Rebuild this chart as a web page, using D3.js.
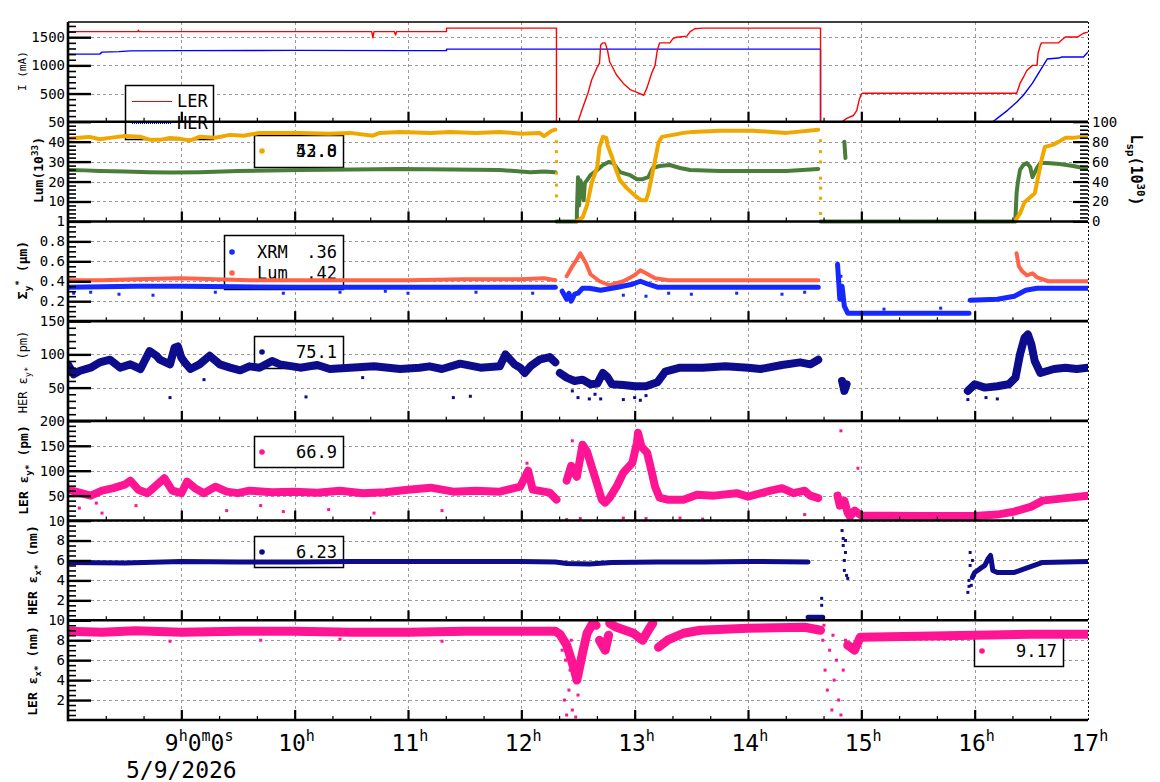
<!DOCTYPE html>
<html><head><meta charset="utf-8">
<script src="https://cdn.jsdelivr.net/npm/d3@7"></script>
<style>
body{margin:0;background:#fff}
svg{display:block}
text{font-family:"DejaVu Sans Mono",monospace;fill:#000}
</style>
</head><body>
<svg id="c" width="1160" height="782"></svg>
<script>
// ---------------- data ----------------
const xTickHours = [9,10,11,12,13,14,15,16,17];
const xTickLabels = ["9h0m0s","10h","11h","12h","13h","14h","15h","16h","17h"];
const dateLabel = "5/9/2026";

const panelDomains = [[0,1770],[0,50],[0,1],[0,150],[0,200],[0,10],[0,10]];
const panelMajor = [[500,1000,1500],[10,20,30,40,50],[0.2,0.4,0.6,0.8,1],[50,100,150],[50,100,150,200],[2,4,6,8,10],[2,4,6,8,10]];
const panelMinorStep = [100,2,0.05,10,10,0.5,0.5];
const rightDomain = [0,100];
const rightMajor = [0,20,40,60,80,100];
const rightMinorStep = 4;

// panel 1: beam currents (mA)
const lerCurrent = [[8.00,1600],[8.62,1600],[8.62,1625],[8.63,1600],[10.68,1600],[10.69,1490],[10.70,1600],[10.88,1600],[10.89,1540],[10.90,1600],[11.34,1600],[11.34,1662],[12.31,1662],[12.31,0],[12.50,0],[12.54,238],[12.59,520],[12.62,740],[12.67,970],[12.69,1040],[12.70,1360],[12.72,1400],[12.74,1400],[12.76,1270],[12.78,1060],[12.84,830],[12.90,680],[12.96,570],[13.02,520],[13.08,470],[13.11,610],[13.15,860],[13.18,1000],[13.20,1270],[13.22,1400],[13.31,1400],[13.34,1480],[13.37,1500],[13.46,1520],[13.49,1600],[13.53,1650],[13.60,1662],[14.64,1662],[14.64,0],[14.83,0],[14.87,60],[14.93,110],[14.96,200],[14.98,380],[15.00,490],[15.01,505],[16.37,505],[16.38,560],[16.40,680],[16.43,790],[16.46,910],[16.51,1000],[16.55,1000],[16.56,1220],[16.58,1360],[16.59,1400],[16.74,1400],[16.75,1420],[16.80,1505],[16.91,1505],[16.96,1570],[17.00,1590]];
const herCurrent = [[8.00,1200],[8.28,1200],[8.30,1235],[8.45,1245],[8.55,1258],[9.0,1262],[10.0,1266],[11.0,1262],[11.34,1265],[11.34,1288],[14.64,1288],[14.64,0],[16.16,0],[16.21,77],[16.29,202],[16.37,345],[16.43,470],[16.51,684],[16.58,916],[16.64,1113],[16.74,1130],[16.77,1148],[16.96,1148],[17.00,1240]];

// panel 2: luminosity
const lumA = [[8.00,41.4],[8.10,42.0],[8.19,42.4],[8.28,41.2],[8.37,41.9],[8.5,42.8],[8.64,42.4],[8.72,41.0],[8.81,40.9],[8.9,41.8],[8.99,41.4],[9.08,40.6],[9.16,42.4],[9.3,42.0],[9.43,43.4],[9.55,43.0],[9.69,44.4],[10.05,44.4],[10.3,44.0],[10.49,44.4],[10.69,43.0],[10.75,44.4],[10.93,44.9],[11.2,44.4],[11.37,44.9],[11.6,44.4],[11.81,44.9],[12.0,44.0],[12.16,44.4],[12.2,42.8],[12.27,45.5],[12.30,46.0],null,[12.49,0],[12.54,2.0],[12.58,8.1],[12.62,19.2],[12.67,27.3],[12.69,37.4],[12.72,42.4],[12.75,41.9],[12.76,38.4],[12.80,32.3],[12.83,26.8],[12.87,20.7],[12.93,16.7],[13.00,13.1],[13.06,10.6],[13.10,10.6],[13.12,14.1],[13.15,22.2],[13.18,30.8],[13.21,39.4],[13.24,42.4],[13.34,43.4],[13.43,44.4],[13.51,44.9],[13.75,45.5],[14.04,45.5],[14.34,44.4],[14.62,46.0],null,[16.36,0.5],[16.40,4.0],[16.44,9.6],[16.49,12.1],[16.53,14.1],[16.56,22.2],[16.59,30.8],[16.62,37.4],[16.69,38.4],[16.74,39.9],[16.80,41.9],[16.87,41.9],[16.93,42.4],[17.00,43.4]];
const lumADrops = [[12.31,40],[12.31,35],[12.31,30],[12.31,24.2],[12.31,18.2],[12.31,12.8],[14.64,40.5],[14.64,35],[14.64,29.8],[14.64,21.7],[14.64,16.7],[14.64,11.6],[14.64,4.0]];
const lumB = [[8.00,25.8],[8.15,25.6],[8.28,25.3],[8.5,25.0],[8.72,24.7],[8.9,24.5],[9.16,24.7],[9.5,25.3],[10.05,25.8],[10.5,26.0],[10.93,26.3],[11.4,26.0],[11.81,25.8],[12.08,24.7],[12.2,25.0],[12.30,24.7],null,[12.31,0],[12.49,0],[12.49,4.0],[12.50,22.2],[12.51,8.0],[12.52,20.7],[12.54,17.2],[12.55,10.6],[12.56,19.2],[12.58,20.7],[12.61,23.2],[12.67,25.8],[12.72,28.3],[12.77,29.8],[12.81,29.3],[12.87,24.7],[12.96,23.2],[13.02,21.2],[13.07,21.2],[13.12,22.2],[13.16,26.8],[13.22,27.8],[13.31,28.3],[13.40,26.8],[13.49,25.8],[13.75,25.3],[14.04,25.3],[14.34,25.3],[14.62,26.3],null,[14.64,0],[16.36,0],null,[14.85,39.9],[14.86,31.8],null,[16.36,2],[16.37,14.1],[16.38,19.2],[16.40,25.8],[16.43,28.3],[16.46,29.3],[16.49,27.3],[16.51,22.2],[16.55,26.8],[16.58,29.3],[16.64,29.3],[16.75,28.8],[16.87,27.8],[17.00,26.3]];

// panel 3: vertical beam size
const sigLum = [[8.0,0.41],[8.3,0.41],[8.6,0.42],[9.0,0.43],[9.3,0.42],[9.6,0.41],[10.0,0.41],[10.5,0.41],[11.0,0.41],[11.5,0.42],[12.0,0.42],[12.2,0.43],[12.30,0.41],null,[12.40,0.45],[12.45,0.55],[12.49,0.62],[12.52,0.68],[12.54,0.64],[12.57,0.58],[12.61,0.47],[12.69,0.40],[12.78,0.36],[12.90,0.40],[13.0,0.46],[13.05,0.51],[13.10,0.48],[13.18,0.43],[13.30,0.41],[14.0,0.41],[14.62,0.41],null,[16.37,0.68],[16.39,0.55],[16.42,0.50],[16.46,0.46],[16.51,0.48],[16.55,0.44],[16.65,0.40],[17.0,0.40]];
const sigXrm = [[8.0,0.34],[8.3,0.345],[8.6,0.35],[9.0,0.35],[9.5,0.345],[10.0,0.34],[11.0,0.34],[12.0,0.34],[12.30,0.34],null,[12.36,0.30],[12.40,0.22],[12.42,0.28],[12.44,0.20],[12.47,0.27],[12.50,0.28],[12.54,0.33],[12.60,0.33],[12.70,0.31],[12.85,0.34],[12.98,0.37],[13.05,0.40],[13.12,0.37],[13.2,0.34],[13.4,0.34],[14.0,0.34],[14.62,0.34],null,[14.79,0.57],[14.80,0.40],[14.81,0.22],[14.83,0.35],[14.85,0.15],[14.88,0.08],[15.0,0.08],[15.5,0.08],[15.95,0.08],null,[15.96,0.21],[16.2,0.22],[16.35,0.25],[16.45,0.31],[16.55,0.33],[17.0,0.33]];
const sigXrmOut = [[8.05,0.28],[8.2,0.29],[8.45,0.27],[8.75,0.26],[9.3,0.29],[9.9,0.28],[10.4,0.29],[10.8,0.30],[11.0,0.28],[11.6,0.29],[12.1,0.28],[12.9,0.26],[13.1,0.25],[13.3,0.28],[13.5,0.27],[13.9,0.28],[14.3,0.27],[14.5,0.29],[15.2,0.12],[15.7,0.13],[14.82,0.45]];

// panel 4: HER vertical emittance (pm)
const herEy = [[8.0,85],[8.05,70],[8.1,75],[8.2,80],[8.28,88],[8.37,92],[8.46,80],[8.55,85],[8.64,78],[8.72,105],[8.78,98],[8.81,92],[8.9,85],[8.94,110],[8.97,112],[9.0,95],[9.03,88],[9.08,78],[9.16,85],[9.25,98],[9.34,85],[9.43,80],[9.52,76],[9.6,82],[9.69,80],[9.8,90],[9.87,85],[10.05,80],[10.2,84],[10.31,78],[10.49,80],[10.7,82],[10.93,78],[11.1,80],[11.19,82],[11.3,78],[11.46,86],[11.64,80],[11.81,82],[11.86,100],[11.94,85],[11.99,80],[12.03,72],[12.08,82],[12.16,92],[12.25,96],[12.30,88],null,[12.34,72],[12.40,65],[12.47,60],[12.54,62],[12.61,55],[12.67,56],[12.72,72],[12.76,66],[12.80,55],[12.90,54],[13.0,52],[13.1,52],[13.2,58],[13.27,74],[13.4,80],[13.6,80],[13.8,82],[14.0,80],[14.11,78],[14.3,84],[14.46,88],[14.55,85],[14.62,92],null,[14.83,60],[14.85,45],[14.87,55],null,[15.94,45],[16.0,55],[16.09,50],[16.2,52],[16.3,55],[16.36,65],[16.40,100],[16.44,125],[16.47,130],[16.50,115],[16.53,90],[16.58,72],[16.7,78],[16.8,80],[16.9,78],[17.0,80]];
const herEyOut = [[8.9,35],[10.1,36],[11.4,35],[11.55,37],[12.5,35],[12.6,33],[12.7,33],[12.9,32],[13.0,35],[13.05,31],[13.1,38],[15.94,32],[16.1,35],[16.2,33],[9.2,62],[10.6,65],[12.45,45],[12.65,40]];

// panel 5: LER vertical emittance (pm)
const lerEy = [[8.0,62],[8.1,56],[8.2,50],[8.3,60],[8.4,65],[8.5,72],[8.55,80],[8.62,62],[8.7,55],[8.8,75],[8.85,85],[8.92,60],[9.0,55],[9.05,78],[9.12,65],[9.2,55],[9.3,68],[9.4,58],[9.5,55],[9.6,60],[9.8,57],[10.0,58],[10.2,56],[10.4,60],[10.6,55],[10.8,57],[11.0,62],[11.2,66],[11.4,58],[11.6,60],[11.81,58],[11.99,68],[12.06,100],[12.1,62],[12.25,56],[12.31,42],null,[12.40,80],[12.44,110],[12.47,95],[12.49,88],[12.54,152],[12.58,138],[12.61,116],[12.67,72],[12.71,42],[12.74,36],[12.78,46],[12.84,68],[12.90,96],[12.98,116],[13.02,156],[13.03,176],[13.06,148],[13.11,136],[13.15,98],[13.18,68],[13.22,46],[13.29,42],[13.43,42],[13.55,52],[13.7,50],[13.9,55],[14.0,48],[14.2,60],[14.3,65],[14.4,55],[14.5,60],[14.55,50],[14.62,45],null,[14.79,50],[14.81,30],[14.85,40],[14.88,15],[14.9,8],[14.94,20],[15.0,10],[15.5,9],[16.0,9],[16.2,12],[16.35,18],[16.5,28],[16.6,40],[16.8,45],[17.0,50]];
const lerEyOut = [[8.1,25],[8.3,15],[8.6,30],[9.4,20],[9.9,18],[10.3,22],[10.7,15],[11.3,20],[12.05,115],[12.45,160],[12.4,2],[13.4,5],[13.6,3],[14.5,12],[14.82,180],[14.97,105],[15.3,2],[12.52,4],[12.9,5],[13.1,4],[8.25,35],[9.7,30]];

// panel 6: HER horizontal emittance (nm)
const herEx = [[8.0,5.8],[8.5,5.75],[9.0,5.9],[9.5,5.85],[10.0,5.85],[10.5,5.9],[11.0,5.9],[11.5,5.9],[12.0,5.9],[12.3,5.85],[12.4,5.7],[12.6,5.65],[12.8,5.8],[13.2,5.85],[13.6,5.85],[14.0,5.9],[14.53,5.85],null,[14.53,0.3],[14.66,0.3],null,[15.98,4.3],[16.0,4.8],[16.05,5.2],[16.09,5.5],[16.12,6.2],[16.14,6.5],[16.16,5.0],[16.2,4.8],[16.35,4.8],[16.45,5.2],[16.55,5.6],[16.6,5.8],[17.0,5.9]];
const herExOut = [[14.83,9.0],[14.84,7.5],[14.84,8.2],[14.85,6.0],[14.85,5.0],[14.86,8.0],[14.87,4.5],[14.86,6.8],[14.88,4.2],[15.94,2.8],[15.95,4.0],[15.95,3.4],[15.96,6.8],[15.96,5.5],[15.97,3.5],[15.98,6.0],[14.65,2.2],[14.65,1.5]];

// panel 7: LER horizontal emittance (nm)
const lerEx = [[8.0,8.9],[8.3,8.8],[8.6,8.95],[9.0,8.8],[9.5,8.9],[10.0,8.9],[10.5,8.8],[11.0,8.8],[11.5,8.9],[12.0,8.9],[12.3,8.9],[12.34,8.6],[12.4,7.5],[12.47,5],[12.49,4.0],[12.54,6.7],[12.58,8.7],[12.63,9.7],[12.66,9.5],null,[12.69,8.0],[12.74,7.0],[12.77,8.5],null,[12.78,9.7],[12.84,9.3],[12.99,8.7],[13.07,8.0],[13.12,9.0],[13.16,9.7],null,[13.21,7.3],[13.29,8.0],[13.43,8.7],[13.58,9.0],[14.0,9.2],[14.5,9.3],[14.64,9.0],null,[14.88,7.5],[14.94,7.0],[14.99,8.3],[15.5,8.4],[16.0,8.5],[16.5,8.6],[17.0,8.6]];
const lerExOut = [[12.36,7],[12.38,2],[12.40,0.5],[12.42,3],[12.43,5],[12.45,1],[12.46,6],[12.48,0.3],[12.50,2.5],[12.52,4.5],[12.44,8],[12.39,6],[14.66,8],[14.68,5],[14.70,3],[14.72,7],[14.74,1],[14.76,4],[14.78,6],[14.80,2],[14.82,0.5],[14.84,5],[14.86,8],[14.67,9.5],[14.75,8.5],[8.9,7.9],[9.7,8.0],[10.4,8.1],[11.3,7.9]];

// legends
const legendCurrentNames = ["LER","HER"];
const legendLumValues = ["52.0","43.8"];
const legendSigNames = ["XRM","Lum"];
const legendSigValues = [".36",".42"];
const legendHerEy = "75.1";
const legendLerEy = "66.9";
const legendHerEx = "6.23";
const legendLerEx = "9.17";

// axis titles: [text, kind]
const titles = [
  [["I (mA)","n"]],
  [["Lum(10","n"],["33","sup"],[")","n"]],
  [["Σ","n"],["y","sub"],["*","sup"],[" (µm)","n"]],
  [["HER ε","n"],["y*","sub"],[" (pm)","n"]],
  [["LER ε","n"],["y*","sub"],[" (pm)","n"]],
  [["HER ε","n"],["x*","sub"],[" (nm)","n"]],
  [["LER ε","n"],["x*","sub"],[" (nm)","n"]]
];
const rightTitle = [["L","n"],["sp","sub"],["(10","n"],["30","sup"],[")","n"]];

// ---------------- drawing ----------------
const C = {red:"#ff0000", blue:"#0000ff", yellow:"#f0a800", green:"#4a7d3a",
           tomato:"#ff6448", xrm:"#1428ff", navy:"#0c0c8c", pink:"#ff1493", grid:"#9a9a9a"};
const svg = d3.select("#c");
const X0 = 68, X1 = 1088, TOP = 22, BOT = 720;
const ph = (BOT - TOP) / 7;
const x = d3.scaleLinear().domain([8,17]).range([X0,X1]);
const ys = panelDomains.map((d,i) => d3.scaleLinear().domain(d).range([TOP+ph*(i+1), TOP+ph*i]));
const yR = d3.scaleLinear().domain(rightDomain).range([TOP+ph*2, TOP+ph]);
const fmt = v => String(+v.toFixed(3));

svg.append("defs").append("clipPath").attr("id","plot")
  .append("rect").attr("x",X0).attr("y",TOP).attr("width",X1-X0).attr("height",BOT-TOP);

// grid
const gGrid = svg.append("g").attr("stroke",C.grid).attr("stroke-width",1).attr("stroke-dasharray","3,3");
panelMajor.forEach((ticks,i) => {
  ticks.forEach(v => {
    const yy = Math.round(ys[i](v)) + 0.5;
    gGrid.append("line").attr("x1",X0+23).attr("x2",X1).attr("y1",yy).attr("y2",yy);
  });
});
xTickHours.filter(h => h < 17).forEach(h => {
  const xx = Math.round(x(h)) + 0.5;
  gGrid.append("line").attr("x1",xx).attr("x2",xx).attr("y1",TOP).attr("y2",BOT);
});

// legend boxes (drawn under data)
const gLeg = svg.append("g");
function box(x0,y0,w,h){ gLeg.append("rect").attr("x",x0+0.5).attr("y",y0+0.5).attr("width",w).attr("height",h)
  .attr("fill","#fff").attr("stroke","#000").attr("stroke-width",1.5); }
function dot(cx,cy,col){ gLeg.append("circle").attr("cx",cx).attr("cy",cy).attr("r",2.8).attr("fill",col); }
function ltxt(xx,yy,t,anchor){ gLeg.append("text").attr("x",xx).attr("y",yy).attr("font-size",17).attr("text-anchor",anchor||"end").text(t); }

box(125,85,88,54);
gLeg.append("line").attr("x1",132).attr("x2",172).attr("y1",101.5).attr("y2",101.5).attr("stroke",C.red).attr("stroke-width",1.2);
gLeg.append("line").attr("x1",132).attr("x2",172).attr("y1",123.5).attr("y2",123.5).attr("stroke",C.blue).attr("stroke-width",1.2).attr("stroke-dasharray","1,1");
ltxt(177,107,legendCurrentNames[0],"start");
ltxt(177,129,legendCurrentNames[1],"start");

box(254,135,89,32); dot(262,151,C.yellow);
legendLumValues.forEach(v => ltxt(337,157,v));

box(224,235,119,54);
dot(232,252,C.xrm); ltxt(257,258,legendSigNames[0],"start"); ltxt(337,258,legendSigValues[0]);
dot(232,273,C.tomato); ltxt(257,279,legendSigNames[1],"start"); ltxt(337,279,legendSigValues[1]);

box(254,336,89,32); dot(262,352,C.navy); ltxt(337,358,legendHerEy);
box(254,436,89,31); dot(262,452,C.pink); ltxt(337,458,legendLerEy);
box(254,536,89,31); dot(262,552,C.navy); ltxt(337,558,legendHerEx);
box(974,634,89,32); dot(982,651,C.pink); ltxt(1057,657,legendLerEx);

// data
const gData = svg.append("g").attr("clip-path","url(#plot)");
function drawLine(data,p,color,w,cap){
  const ln = d3.line().defined(d => d !== null).x(d => x(d[0])).y(d => ys[p](d[1]));
  gData.append("path").attr("d",ln(data)).attr("fill","none").attr("stroke",color)
    .attr("stroke-width",w).attr("stroke-linejoin","round").attr("stroke-linecap",cap||"round");
}
function drawDots(data,p,color,s){
  gData.append("g").selectAll("rect").data(data).join("rect")
    .attr("x",d => x(d[0]) - s/2).attr("y",d => ys[p](d[1]) - s/2)
    .attr("width",s).attr("height",s).attr("fill",color);
}
drawLine(herCurrent,0,C.blue,1.4,"butt");
drawLine(lerCurrent,0,C.red,1.4,"butt");
drawLine(lumB,1,C.green,4);
drawLine(lumA,1,C.yellow,4);
drawDots(lumADrops,1,C.yellow,3);
drawLine(sigLum,2,C.tomato,4);
drawLine(sigXrm,2,C.xrm,5);
drawDots(sigXrmOut,2,C.xrm,3);
drawLine(herEy,3,C.navy,8);
drawDots(herEyOut,3,C.navy,3);
drawLine(lerEy,4,C.pink,8);
drawDots(lerEyOut,4,C.pink,3);
drawLine(herEx,5,C.navy,5);
drawDots(herExOut,5,C.navy,3);
drawLine(lerEx,6,C.pink,9);
drawDots(lerExOut,6,C.pink,3);

// axes
const gAx = svg.append("g");
function styleAxis(g,w){
  g.select(".domain").remove();
  g.selectAll(".tick line").attr("stroke","#000").attr("stroke-width",w);
  g.selectAll(".tick text").attr("font-size",14).attr("font-family","DejaVu Sans Mono").attr("fill","#000");
}
panelDomains.forEach((d,i) => {
  const minors = d3.range(d[0], d[1] + 1e-9, panelMinorStep[i]).filter(v => !panelMajor[i].some(m => Math.abs(m-v) < 1e-9) && v > d[0]);
  const gm = gAx.append("g").attr("transform",`translate(${X0},0)`)
    .call(d3.axisLeft(ys[i]).tickValues(minors).tickSizeInner(-8).tickSizeOuter(0).tickFormat(() => ""));
  styleAxis(gm,1.6);
  const gM = gAx.append("g").attr("transform",`translate(${X0},0)`)
    .call(d3.axisLeft(ys[i]).tickValues(panelMajor[i]).tickSizeInner(-23).tickSizeOuter(0).tickPadding(3).tickFormat(fmt));
  styleAxis(gM,2.4);
  // hour ticks along the bottom edge of each panel
  const yb = TOP + ph*(i+1);
  const minorH = d3.range(8, 17, 1/3).filter(h => Math.abs(h - Math.round(h)) > 0.01);
  const gb = gAx.append("g").attr("transform",`translate(0,${yb})`)
    .call(d3.axisBottom(x).tickValues(minorH).tickSizeInner(-4).tickSizeOuter(0).tickFormat(() => ""));
  styleAxis(gb,1.2);
  const gB = gAx.append("g").attr("transform",`translate(0,${yb})`)
    .call(d3.axisBottom(x).tickValues(xTickHours.filter(h => h < 17)).tickSizeInner(-10).tickSizeOuter(0).tickFormat(() => ""));
  styleAxis(gB,2.2);
});
// right axis on luminosity panel
{
  const minors = d3.range(rightDomain[0], rightDomain[1] + 1e-9, rightMinorStep).filter(v => v % 20 !== 0);
  const gm = gAx.append("g").attr("transform",`translate(${X1},0)`)
    .call(d3.axisRight(yR).tickValues(minors).tickSizeInner(-8).tickSizeOuter(0).tickFormat(() => ""));
  styleAxis(gm,1.6);
  const gM = gAx.append("g").attr("transform",`translate(${X1},0)`)
    .call(d3.axisRight(yR).tickValues(rightMajor).tickSizeInner(-15).tickSizeOuter(0).tickPadding(4).tickFormat(fmt));
  styleAxis(gM,2.2);
}
// frame
gAx.append("line").attr("x1",X0).attr("x2",X1).attr("y1",TOP).attr("y2",TOP).attr("stroke","#000").attr("stroke-width",1.5);
for (let i = 1; i <= 7; i++) {
  const yy = TOP + ph*i;
  gAx.append("line").attr("x1",X0).attr("x2",X1).attr("y1",yy).attr("y2",yy).attr("stroke","#000").attr("stroke-width",2.6);
}
gAx.append("line").attr("x1",X0).attr("x2",X0).attr("y1",TOP).attr("y2",BOT+1.3).attr("stroke","#000").attr("stroke-width",2.6);
gAx.append("line").attr("x1",X1+0.5).attr("x2",X1+0.5).attr("y1",TOP).attr("y2",BOT).attr("stroke","#000").attr("stroke-width",1).attr("stroke-dasharray","2,2");

// x tick labels
xTickHours.forEach((h,k) => {
  const t = svg.append("text").attr("x", x(h) - 16.5).attr("y", 751).attr("font-size",23);
  const parts = xTickLabels[k].match(/\d+|[a-z]/g);
  let off = 0;
  parts.forEach(p => {
    const sup = /[a-z]/.test(p);
    const target = sup ? -10 : 0;
    t.append("tspan").attr("dy", target - off).attr("font-size", sup ? 15 : 23).text(p);
    off = target;
  });
});
svg.append("text").attr("x", x(9)).attr("y", 778).attr("font-size",23).attr("text-anchor","middle").text(dateLabel);

// axis titles
function title(tx,ty,angle,parts,size,weight){
  const t = svg.append("text").attr("transform",`translate(${tx},${ty}) rotate(${angle})`)
    .attr("text-anchor","middle").attr("font-size",size).attr("font-weight",weight);
  let off = 0;
  parts.forEach(([s,k]) => {
    const target = k === "sup" ? -0.42*size : (k === "sub" ? 0.3*size : 0);
    t.append("tspan").attr("dy", target - off).attr("font-size", k === "n" ? size : size*0.72).text(s);
    off = target;
  });
}
const titlePos = [[26,71,11,"normal"],[43,170,13,"bold"],[27,270,13,"bold"],[27,372,12,"normal"],[28,470,13,"bold"],[37,570,13,"bold"],[37,671,13,"bold"]];
titles.forEach((parts,i) => title(titlePos[i][0], titlePos[i][1], -90, parts, titlePos[i][2], titlePos[i][3]));
title(1131,170,90,rightTitle,15,"bold");
</script>
</body></html>
